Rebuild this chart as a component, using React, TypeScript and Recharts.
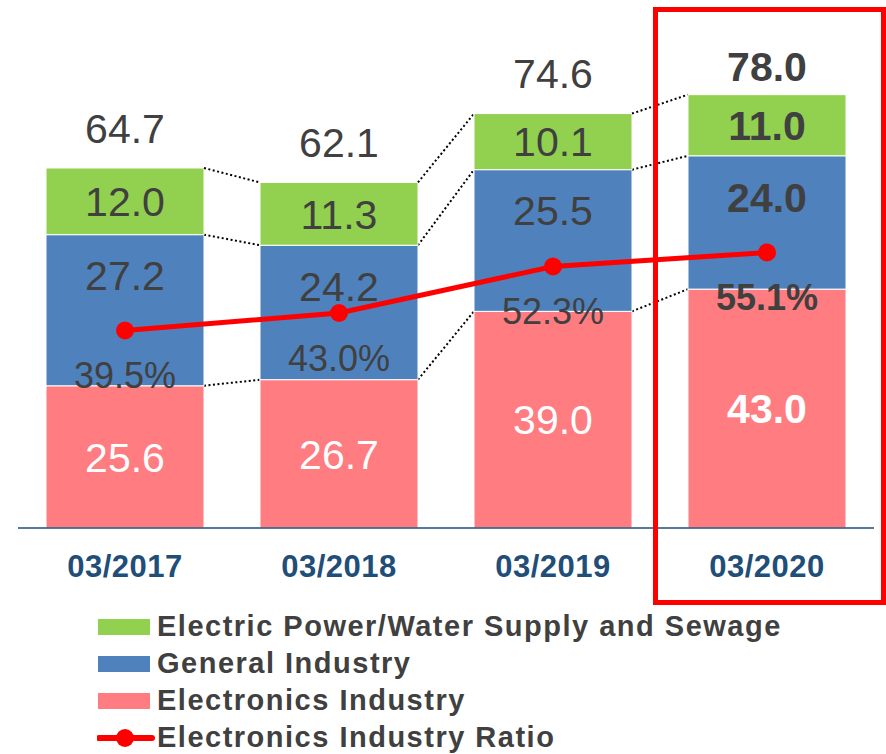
import { ComposedChart, Bar, Line, XAxis, YAxis, LabelList } from "recharts";

// Data
const categories = ["03/2017", "03/2018", "03/2019", "03/2020"];
const electronics = [25.6, 26.7, 39.0, 43.0];
const general = [27.2, 24.2, 25.5, 24.0];
const electricPower = [12.0, 11.3, 10.1, 11.0];
const totals = [64.7, 62.1, 74.6, 78.0];
const electronicsRatio = [39.5, 43.0, 52.3, 55.1];
const highlightIndex = 3;

const COLORS = {
  electronics: "#FF7C80",
  general: "#4F81BD",
  power: "#92D050",
  ratio: "#FF0000",
  text: "#404040",
  axis: "#1F4E79",
};

const FONT = "'Liberation Sans', Arial, sans-serif";

const data = categories.map((name, i) => ({
  name,
  electronics: electronics[i],
  general: general[i],
  power: electricPower[i],
  total: totals[i],
  ratio: electronicsRatio[i],
}));

const W = 886;
const H = 754;
const margin = { top: 28, right: 12, left: 18, bottom: 166 };
const step = (W - margin.left - margin.right) / categories.length;

// stacked segments, bottom to top, and their cumulative tops
const stacks = [electronics, general, electricPower];
const cumTop = stacks.map((_, k) =>
  categories.map((_, i) => stacks.slice(0, k + 1).reduce((s, arr) => s + arr[i], 0))
);

// bar segment + dotted connector to the same boundary on the next bar
const makeShape = (k: number, fill: string) => (props: any) => {
  const { x, y, width, height, index } = props;
  const vals = stacks[k];
  const per = height / vals[index];
  const base = y + height + (cumTop[k][index] - vals[index]) * per;
  const hasNext = index < categories.length - 1;
  return (
    <g>
      <rect x={x} y={y} width={width} height={height} fill={fill} stroke="#fff" strokeWidth={1} />
      {hasNext && (
        <line
          x1={x + width}
          y1={y}
          x2={x + step}
          y2={base - cumTop[k][index + 1] * per}
          stroke="#000"
          strokeWidth={2}
          strokeDasharray="2 2.5"
        />
      )}
    </g>
  );
};

const segLabel = (color: string, where: "center" | "top") => (props: any) => {
  const { x, y, width, height, index, value } = props;
  const cy = where === "center" ? y + height / 2 : y + 41;
  return (
    <text
      x={x + width / 2}
      y={cy}
      dy="0.36em"
      textAnchor="middle"
      fill={color}
      fontFamily={FONT}
      fontSize={41}
      fontWeight={index === highlightIndex ? "bold" : "normal"}
    >
      {Number(value).toFixed(1)}
    </text>
  );
};

const totalLabel = (props: any) => {
  const { x, y, width, index } = props;
  return (
    <text
      x={x + width / 2}
      y={y - (index === highlightIndex ? 28 : 40)}
      dy="0.36em"
      textAnchor="middle"
      fill={COLORS.text}
      fontFamily={FONT}
      fontSize={41}
      fontWeight={index === highlightIndex ? "bold" : "normal"}
    >
      {totals[index].toFixed(1)}
    </text>
  );
};

const ratioLabel = (props: any) => {
  const { x, y, index, value } = props;
  return (
    <text
      x={x}
      y={y + 45}
      dy="0.36em"
      textAnchor="middle"
      fill={COLORS.text}
      fontFamily={FONT}
      fontSize={36}
      fontWeight={index === highlightIndex ? "bold" : "normal"}
    >
      {Number(value).toFixed(1)}%
    </text>
  );
};

const legendItems = [
  { label: "Electric Power/Water Supply and Sewage", color: COLORS.power, type: "rect" },
  { label: "General Industry", color: COLORS.general, type: "rect" },
  { label: "Electronics Industry", color: COLORS.electronics, type: "rect" },
  { label: "Electronics Industry Ratio", color: COLORS.ratio, type: "line" },
];

const App = () => {
  return (
    <div style={{ position: "absolute", left: 0, top: 0, width: W, height: H, background: "#fff" }}>
      <ComposedChart width={W} height={H} data={data} margin={margin}>
        <XAxis
          dataKey="name"
          height={60}
          tickLine={false}
          tickSize={0}
          tickMargin={27}
          axisLine={{ stroke: COLORS.axis, strokeWidth: 1.5 }}
          tick={{ fill: COLORS.axis, fontSize: 31, fontWeight: "bold", fontFamily: FONT, letterSpacing: 0.5 }}
        />
        <YAxis yAxisId="left" hide domain={[0, 90]} />
        <YAxis yAxisId="right" hide domain={[0, 100]} orientation="right" />
        <Bar
          yAxisId="left"
          dataKey="electronics"
          stackId="a"
          barSize={158}
          shape={makeShape(0, COLORS.electronics)}
          isAnimationActive={false}
        >
          <LabelList dataKey="electronics" content={segLabel("#fff", "center")} />
        </Bar>
        <Bar
          yAxisId="left"
          dataKey="general"
          stackId="a"
          barSize={158}
          shape={makeShape(1, COLORS.general)}
          isAnimationActive={false}
        >
          <LabelList dataKey="general" content={segLabel(COLORS.text, "top")} />
        </Bar>
        <Bar
          yAxisId="left"
          dataKey="power"
          stackId="a"
          barSize={158}
          shape={makeShape(2, COLORS.power)}
          isAnimationActive={false}
        >
          <LabelList dataKey="power" content={segLabel(COLORS.text, "center")} />
          <LabelList dataKey="total" content={totalLabel} />
        </Bar>
        <Line
          yAxisId="right"
          dataKey="ratio"
          stroke={COLORS.ratio}
          strokeWidth={5}
          dot={{ r: 9, fill: COLORS.ratio, stroke: COLORS.ratio, strokeWidth: 0 }}
          activeDot={false}
          isAnimationActive={false}
        >
          <LabelList dataKey="ratio" content={ratioLabel} />
        </Line>
      </ComposedChart>

      {/* highlight box around the latest period */}
      <div
        style={{
          position: "absolute",
          left: 653,
          top: 7,
          width: 223,
          height: 588,
          border: "5px solid #FF0000",
          pointerEvents: "none",
        }}
      />

      <div style={{ position: "absolute", left: 97, top: 608, fontFamily: FONT }}>
        {legendItems.map((item) => (
          <div key={item.label} style={{ display: "flex", alignItems: "center", height: 37 }}>
            <svg width={58} height={22} style={{ marginRight: 2 }}>
              {item.type === "rect" ? (
                <rect x={1} y={3} width={52} height={16} fill={item.color} />
              ) : (
                <g>
                  <line x1={2} y1={11} x2={55} y2={11} stroke={item.color} strokeWidth={6} strokeLinecap="round" />
                  <circle cx={28} cy={11} r={9} fill={item.color} />
                </g>
              )}
            </svg>
            <span
              style={{
                fontSize: 29,
                fontWeight: "bold",
                color: COLORS.text,
                whiteSpace: "nowrap",
                letterSpacing: 1.5,
              }}
            >
              {item.label}
            </span>
          </div>
        ))}
      </div>
    </div>
  );
};

export default App;
